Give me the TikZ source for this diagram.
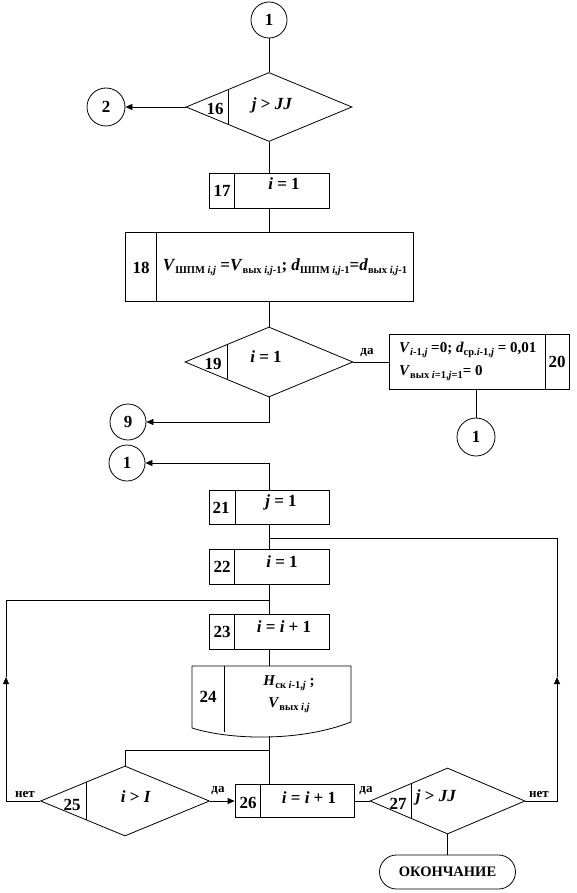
\documentclass[tikz,border=0pt]{standalone}
\usepackage{fontspec}
\setmainfont{Liberation Serif}
\usetikzlibrary{shapes.geometric,calc,arrows.meta}

\newcommand{\lsb}[1]{\raisebox{-0.4ex}{\fontsize{10.5}{10.5}\selectfont #1}}
\newcommand{\vi}[1]{\textit{#1}}

\begin{document}
\begin{tikzpicture}[x=1pt,y=-1pt,
  every node/.style={font=\fontsize{17}{19}\selectfont\bfseries},
  ln/.style={line width=0.8pt},
  arr/.style={ln,-{Triangle[length=7pt,width=6pt]}},
  conn/.style={circle,draw,ln,minimum size=36pt,inner sep=0pt},
  dec/.style={diamond,draw,ln,inner sep=0pt},
  box/.style={rectangle,draw,ln,inner sep=0pt},
  lbl/.style={font=\fontsize{13}{14}\selectfont\bfseries,inner sep=0pt},
  txt/.style={inner sep=0pt},
  small/.style={inner sep=0pt,font=\fontsize{15}{17}\selectfont\bfseries},
]
\useasboundingbox (0,0) rectangle (577,893);

% --- block 16
\node[conn] (c1a) at (269,20) {1};
\node[dec,minimum width=166pt,minimum height=69pt] (d16) at (269,107) {};
\draw[ln] ($(d16.west)!0.51!(d16.north)$) -- ($(d16.west)!0.51!(d16.south)$);
\node[txt] (n16) at (215,109) {16};
\node[txt] (t16) at (272,105) {\vi{j} > \vi{JJ}};
\node[conn,minimum size=38pt] (c2) at (106,107) {2};
\draw[ln] (c1a) -- (d16.north);
\draw[arr] (d16.west) -- (c2);

% --- block 17
\node[box,minimum width=120pt,minimum height=35pt] (b17) at (269,190.5) {};
\draw[ln] ($(b17.north west)+(26,0)$) -- ($(b17.south west)+(26,0)$);
\node[txt] (n17) at (222,191) {17};
\node[txt] (t17) at (284,184) {\vi{i} = 1};
\draw[ln] (d16.south) -- (d16.south |- b17.north);

% --- block 18
\node[box,minimum width=288pt,minimum height=69pt] (b18) at (269,266.5) {};
\draw[ln] ($(b18.north west)+(32,0)$) -- ($(b18.south west)+(32,0)$);
\node[txt] (n18) at (141,268) {18};
\node[txt] (t18) at (285,267) {\vi{V}\lsb{ШПМ \vi{i,j}} =\vi{V}\lsb{вых \vi{i,j}-1}; \vi{d}\lsb{ШПМ \vi{i,j}-1}=\vi{d}\lsb{вых \vi{i,j}-1}};
\draw[ln] (b17.south) -- (b17.south |- b18.north);

% --- block 19
\node[dec,minimum width=168pt,minimum height=70pt] (d19) at (269,362) {};
\draw[ln] ($(d19.west)!0.51!(d19.north)$) -- ($(d19.west)!0.51!(d19.south)$);
\node[txt] (n19) at (213,364) {19};
\node[txt] (t19) at (266,357) {\vi{i} = 1};
\draw[ln] (b18.south) -- (d19.north);

% --- block 20
\node[box,minimum width=180pt,minimum height=55pt] (b20) at (479,362) {};
\draw[ln] ($(b20.north east)+(-24,0)$) -- ($(b20.south east)+(-24,0)$);
\node[txt] (n20) at (557,362) {20};
\node[small,anchor=west] (t20a) at (399,350) {\vi{V}\lsb{\vi{i}-1,\vi{j}} =0; \vi{d}\lsb{ср.\vi{i}-1,\vi{j}} = 0,01};
\node[small,anchor=west] (t20b) at (399,373) {\vi{V}\lsb{вых \vi{i}=1,\vi{j}=1}= 0};
\draw[ln] (d19.east) -- (b20.west);
\node[lbl] (yes19) at (367,353) {да};
\node[conn,minimum size=38pt] (c1c) at (476,437) {1};
\draw[ln] (c1c |- b20.south) -- (c1c);

% --- connectors 9 and 1
\node[conn] (c9) at (128,422) {9};
\draw[arr] (d19.south) |- (c9);
\node[conn] (c1b) at (127,463) {1};

% --- block 21
\node[box,minimum width=120pt,minimum height=34pt] (b21) at (269,507) {};
\draw[ln] ($(b21.north west)+(27,0)$) -- ($(b21.south west)+(27,0)$);
\node[txt] (n21) at (221,508) {21};
\node[txt] (t21) at (281,502) {\vi{j} = 1};
\draw[arr] (b21.north) |- (c1b);

% --- block 22
\node[box,minimum width=120pt,minimum height=35pt] (b22) at (269,566.5) {};
\draw[ln] ($(b22.north west)+(26,0)$) -- ($(b22.south west)+(26,0)$);
\node[txt] (n22) at (222,567) {22};
\node[txt] (t22) at (282,562) {\vi{i} = 1};
\draw[ln] (b21.south) -- (b22.north);
\coordinate (jB) at (269,538);

% --- block 23
\node[box,minimum width=120pt,minimum height=35pt] (b23) at (269,631.5) {};
\draw[ln] ($(b23.north west)+(26,0)$) -- ($(b23.south west)+(26,0)$);
\node[txt] (n23) at (222,632) {23};
\node[txt] (t23) at (284,627) {\vi{i} = \vi{i} + 1};
\draw[ln] (b22.south) -- (b23.north);
\coordinate (jA) at (269,600);

% --- block 24 (document)
\coordinate (b24t) at (269,666);
\coordinate (b24b) at (269,735.5);
\draw[ln] (192,666) -- (351,666) -- (351,722)
  .. controls (300,742) and (230,740) .. (192,728) -- cycle;
\draw[ln] (224,666) -- (224,732);
\node[txt] (n24) at (208,697) {24};
\node[small] (t24a) at (289,683) {\vi{H}\lsb{ск \vi{i}-1,\vi{j}} ;};
\node[small] (t24b) at (289,705) {\vi{V}\lsb{вых \vi{i},\vi{j}}};
\draw[ln] (b23.south) -- (b24t);

% --- bottom row
\node[dec,minimum width=169pt,minimum height=70pt] (d25) at (125,801) {};
\draw[ln] ($(d25.west)!0.54!(d25.north)$) -- ($(d25.west)!0.54!(d25.south)$);
\node[txt] (n25) at (72,805) {25};
\node[txt] (t25) at (136,797) {\vi{i} > \vi{I}};

\node[box,minimum width=119pt,minimum height=33pt] (b26) at (294.5,801) {};
\draw[ln] ($(b26.north west)+(26,0)$) -- ($(b26.south west)+(26,0)$);
\node[txt] (n26) at (248,803) {26};
\node[txt] (t26) at (309,798) {\vi{i} = \vi{i} + 1};

\node[dec,minimum width=155pt,minimum height=66pt] (d27) at (447.5,801) {};
\draw[ln] ($(d27.west)!0.54!(d27.north)$) -- ($(d27.west)!0.54!(d27.south)$);
\node[txt] (n27) at (398,804) {27};
\node[txt] (t27) at (436,797) {\vi{j} > \vi{JJ}};

\node[draw,ln,rounded corners=17pt,minimum width=136pt,minimum height=34pt,inner sep=0pt,font=\fontsize{14.5}{16}\selectfont\bfseries] (end) at (447.5,872) {ОКОНЧАНИЕ};

\coordinate (jC) at (269,750);
\draw[ln] (b24b) -- (b24b |- b26.north);
\draw[ln] (jC) -| (d25.north);
\draw[arr] (d25.east) -- (b26.west);
\node[lbl] (yes25) at (218,791) {да};
\draw[ln] (b26.east) -- (d27.west);
\node[lbl] (yes27) at (366,791) {да};
\draw[ln] (d27.south) -- (end.north);

% --- loops
\coordinate (cL) at (6,677);
\coordinate (cR) at (557,677);
\draw[arr] (d25.west) -| (cL);
\draw[ln] (cL) |- (jA);
\node[lbl] (no25) at (25,794) {нет};
\draw[arr] (d27.east) -| (cR);
\draw[ln] (cR) |- (jB);
\node[lbl] (no27) at (539,794) {нет};
\end{tikzpicture}
\end{document}
